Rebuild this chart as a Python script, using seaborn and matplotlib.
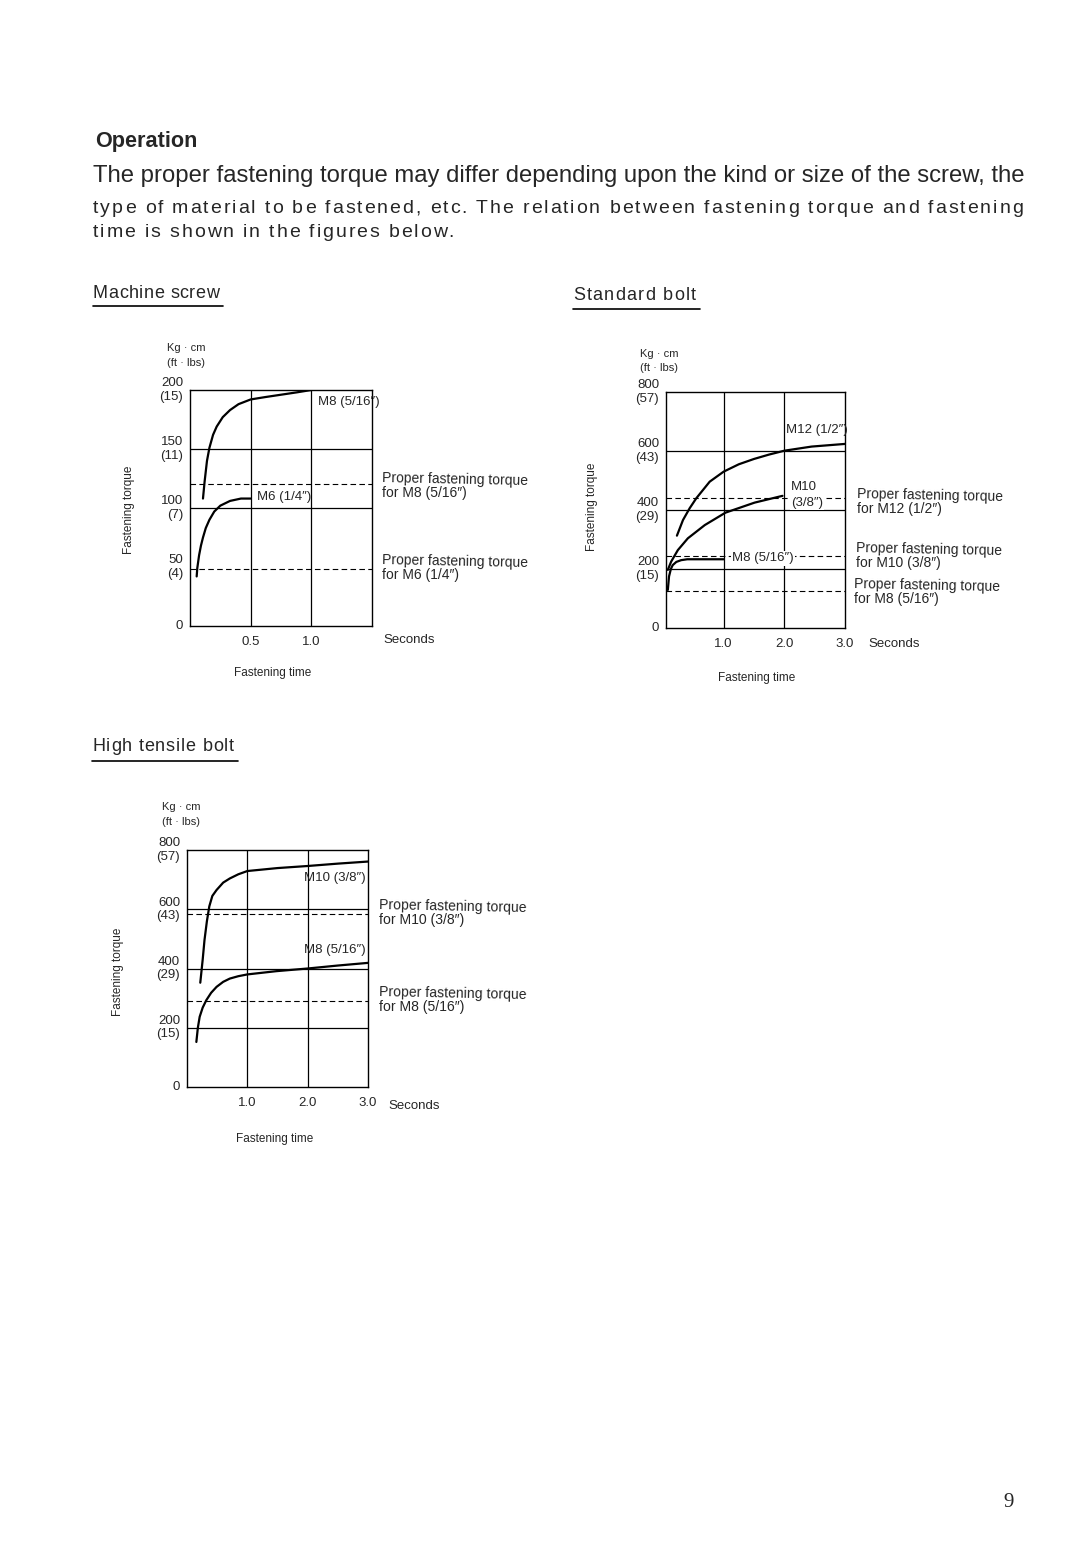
import matplotlib
matplotlib.use("Agg")
import matplotlib.pyplot as plt
import seaborn as sns
import pandas as pd
import numpy as np

# ---------------- data ----------------
# Machine screw (Kg.cm vs seconds)
ms_m8_t = [0.107, 0.12, 0.14, 0.16, 0.19, 0.22, 0.27, 0.33, 0.40, 0.50, 0.62, 0.75, 0.88, 1.00]
ms_m8_v = [108, 122, 140, 151, 162, 169, 177, 183, 188, 192, 194, 196, 198, 200]
ms_m6_t = [0.055, 0.06, 0.075, 0.09, 0.107, 0.13, 0.16, 0.20, 0.25, 0.33, 0.42, 0.50]
ms_m6_v = [42, 49, 60, 68, 75, 83, 90, 97, 102, 106, 108, 108]
ms_proper = [120, 48]
ms_yticks = [0, 50, 100, 150, 200]
ms_ylabels = ["0", "50\n(4)", "100\n(7)", "150\n(11)", "200\n(15)"]
ms_xticks = [0.5, 1.0]
ms_xlabels = ["0.5", "1.0"]

# Standard bolt
sb_m12_t = [0.23, 0.33, 0.44, 0.55, 0.77, 1.0, 1.25, 1.5, 1.75, 2.0, 2.45, 3.0]
sb_m12_v = [313, 366, 406, 440, 496, 530, 555, 573, 588, 601, 615, 624]
sb_m10_t = [0.08, 0.135, 0.245, 0.41, 0.69, 1.03, 1.51, 1.97]
sb_m10_v = [197, 225, 264, 304, 349, 391, 425, 448]
sb_m8_t = [0.08, 0.10, 0.13, 0.16, 0.22, 0.30, 0.40, 0.60, 1.00]
sb_m8_v = [129, 175, 200, 213, 224, 230, 233, 233, 233]
sb_proper = [440, 245, 125]

# High tensile bolt
ht_m10_t = [0.22, 0.26, 0.29, 0.33, 0.37, 0.42, 0.49, 0.60, 0.71, 0.85, 1.0, 1.5, 2.0, 2.5, 3.0]
ht_m10_v = [352, 430, 496, 560, 610, 645, 665, 690, 704, 718, 729, 739, 746, 754, 761]
ht_m8_t = [0.155, 0.18, 0.21, 0.26, 0.32, 0.40, 0.49, 0.60, 0.71, 0.85, 1.0, 1.48, 2.0, 2.5, 3.0]
ht_m8_v = [152, 200, 237, 268, 293, 318, 338, 355, 366, 374, 380, 391, 400, 410, 419]
ht_proper = [585, 290]

bolt_yticks = [0, 200, 400, 600, 800]
bolt_ylabels = ["0", "200\n(15)", "400\n(29)", "600\n(43)", "800\n(57)"]
bolt_xticks = [1.0, 2.0, 3.0]
bolt_xlabels = ["1.0", "2.0", "3.0"]

# ---------------- style ----------------
sns.set_style("white")
plt.rcParams['font.family'] = ['Liberation Sans', 'DejaVu Sans']
plt.rcParams['axes.edgecolor'] = 'black'

W, H = 1080, 1545
fig = plt.figure(figsize=(W / 100, H / 100), dpi=100)
fig.patch.set_facecolor('white')
renderer = fig.canvas.get_renderer()


def P(x, y):
    return x / W, 1 - y / H


def add_ax(l, t, r, b):
    return fig.add_axes([l / W, 1 - b / H, (r - l) / W, (b - t) / H])


def measure(s, fs, **kw):
    t = fig.text(0, 0, s, fontsize=fs, **kw)
    w = t.get_window_extent(renderer).width
    t.remove()
    return w


def ftext(x, y, s, fs, width=None, **kw):
    t = fig.text(*P(x, y), s, fontsize=fs, **kw)
    if width is not None:
        bb = t.get_window_extent(renderer)
        t.set_fontsize(fs * width / bb.width)
    return t


def tracked(x, y, s, fs, width, va='baseline', **kw):
    """Draw text with uniform letter spacing so it spans `width` pixels."""
    bar = measure("|", fs, **kw)
    pref = [0.0] + [measure(s[:i] + "|", fs, **kw) - bar for i in range(1, len(s))]
    natural = measure(s, fs, **kw)
    n = len(s)
    track = (width - natural) / max(n - 1, 1)
    for i, ch in enumerate(s):
        if ch == " ":
            continue
        xi = x + pref[i] + i * track
        fig.text(*P(xi, y), ch, fontsize=fs, va=va, ha='left', **kw)


def make_df(series):
    rows = []
    for name, ts, vs in series:
        for a, b in zip(ts, vs):
            rows.append({"series": name, "t": a, "v": b})
    return pd.DataFrame(rows)


def setup(ax, xlim, ylim, yticks, ylabels, xticks, xlabels, hgrid, vgrid, proper):
    ax.set_xlim(*xlim)
    ax.set_ylim(*ylim)
    ax.set_yticks(yticks)
    ax.set_yticklabels(ylabels, fontsize=9.5, linespacing=1.15)
    ax.set_xticks(xticks)
    ax.set_xticklabels(xlabels, fontsize=9.5)
    ax.tick_params(axis='both', length=0)
    ax.tick_params(axis='y', pad=5)
    ax.tick_params(axis='x', pad=7)
    for lab in ax.get_yticklabels():
        lab.set_verticalalignment('center')
    for g in hgrid:
        ax.axhline(g, color='black', lw=0.9, zorder=1)
    for g in vgrid:
        ax.axvline(g, color='black', lw=0.9, zorder=1)
    for p in proper:
        ax.axhline(p, color='black', lw=0.8, ls=(0, (5, 3)), zorder=1)
    for s in ax.spines.values():
        s.set_color('black')
        s.set_linewidth(1.0)
    ax.set_xlabel("")
    ax.set_ylabel("")
    leg = ax.get_legend()
    if leg:
        leg.remove()


def proper_label(x, y, line2, width=146):
    t = ftext(x, y, "Proper fastening torque", 9, width=width, va='center', rotation=-1.2)
    ftext(x, y + 13, line2, t.get_fontsize(), va='center')


# ---------------- page text ----------------
ftext(95, 147, "Operation", 15.5, width=102, fontweight='bold', va='baseline')
ftext(93, 182, "The proper fastening torque may differ depending upon the kind or size of the screw, the",
      15, width=932, va='baseline')
tracked(93, 213, "type of material to be fastened, etc. The relation between fastening torque and fastening",
        14, 930)
tracked(93, 237, "time is shown in the figures below.", 14, 360)

for (x0, x1, yb, yu, s) in [(93, 223, 298, 306, "Machine screw"),
                           (573, 700, 300, 309, "Standard bolt"),
                           (92, 238, 751, 761, "High tensile bolt")]:
    tracked(x0, yb, s, 13, x1 - x0 - 4)
    fig.add_artist(plt.Line2D([x0 / W, x1 / W], [1 - yu / H, 1 - yu / H], color='black', lw=1.2))

ftext(1003, 1507, "9", 15, family=['Liberation Serif', 'DejaVu Serif'], va='baseline')

# ---------------- chart 1: machine screw ----------------
ax1 = add_ax(190, 390, 372, 626)
df1 = make_df([("M8", ms_m8_t, ms_m8_v), ("M6", ms_m6_t, ms_m6_v)])
sns.lineplot(data=df1, x="t", y="v", units="series", estimator=None, sort=False,
             color='black', lw=1.6, ax=ax1, zorder=3)
setup(ax1, (0, 1.5), (0, 200), ms_yticks, ms_ylabels, ms_xticks, ms_xlabels,
      [100, 150], [0.5, 1.0], ms_proper)
ax1.text(1.055, 190, "M8 (5/16\u2033)", fontsize=9.5, va='center')
ax1.text(0.55, 109, "M6 (1/4\u2033)", fontsize=9.5, va='center')
ftext(167, 348, "Kg \u00b7 cm", 8, va='center')
ftext(167, 363, "(ft \u00b7 lbs)", 8, va='center')
ftext(129, 510, "Fastening torque", 8.5, rotation=90, ha='center', va='center')
ftext(383, 640, "Seconds", 9.5, va='center')
ftext(273, 673, "Fastening time", 8.5, ha='center', va='center')
proper_label(382, 480, "for M8 (5/16\u2033)")
proper_label(382, 562, "for M6 (1/4\u2033)")

# ---------------- chart 2: standard bolt ----------------
ax2 = add_ax(666, 392, 845, 628)
df2 = make_df([("M12", sb_m12_t, sb_m12_v), ("M10", sb_m10_t, sb_m10_v), ("M8", sb_m8_t, sb_m8_v)])
sns.lineplot(data=df2, x="t", y="v", units="series", estimator=None, sort=False,
             color='black', lw=1.6, ax=ax2, zorder=3)
setup(ax2, (0.05, 3.0), (0, 800), bolt_yticks, bolt_ylabels, bolt_xticks, bolt_xlabels,
      [200, 400, 600], [1.0, 2.0], sb_proper)
wb = dict(facecolor='white', edgecolor='none', pad=1)
ax2.text(2.03, 671, "M12 (1/2\u2033)", fontsize=9.5, va='center')
ax2.text(2.11, 478, "M10", fontsize=9.5, va='center')
ax2.text(2.11, 424, "(3/8\u2033)", fontsize=9.5, va='center', bbox=wb, zorder=4)
ax2.text(1.14, 236, "M8 (5/16\u2033)", fontsize=9.5, va='center', bbox=wb, zorder=4)
ftext(640, 354, "Kg \u00b7 cm", 8, va='center')
ftext(640, 368, "(ft \u00b7 lbs)", 8, va='center')
ftext(592, 507, "Fastening torque", 8.5, rotation=90, ha='center', va='center')
ftext(868, 644, "Seconds", 9.5, va='center')
ftext(757, 678, "Fastening time", 8.5, ha='center', va='center')
proper_label(857, 496, "for M12 (1/2\u2033)")
proper_label(856, 550, "for M10 (3/8\u2033)")
proper_label(854, 586, "for M8 (5/16\u2033)")

# ---------------- chart 3: high tensile bolt ----------------
ax3 = add_ax(187, 850, 368, 1087)
df3 = make_df([("M10", ht_m10_t, ht_m10_v), ("M8", ht_m8_t, ht_m8_v)])
sns.lineplot(data=df3, x="t", y="v", units="series", estimator=None, sort=False,
             color='black', lw=1.6, ax=ax3, zorder=3)
setup(ax3, (0, 3.0), (0, 800), bolt_yticks, bolt_ylabels, bolt_xticks, bolt_xlabels,
      [200, 400, 600], [1.0, 2.0], ht_proper)
ax3.text(1.94, 705, "M10 (3/8\u2033)", fontsize=9.5, va='center')
ax3.text(1.94, 462, "M8 (5/16\u2033)", fontsize=9.5, va='center')
ftext(162, 807, "Kg \u00b7 cm", 8, va='center')
ftext(162, 822, "(ft \u00b7 lbs)", 8, va='center')
ftext(118, 972, "Fastening torque", 8.5, rotation=90, ha='center', va='center')
ftext(388, 1106, "Seconds", 9.5, va='center')
ftext(275, 1139, "Fastening time", 8.5, ha='center', va='center')
proper_label(379, 907, "for M10 (3/8\u2033)", width=148)
proper_label(379, 994, "for M8 (5/16\u2033)", width=148)

fig.savefig("out.png", dpi=100, facecolor='white')
